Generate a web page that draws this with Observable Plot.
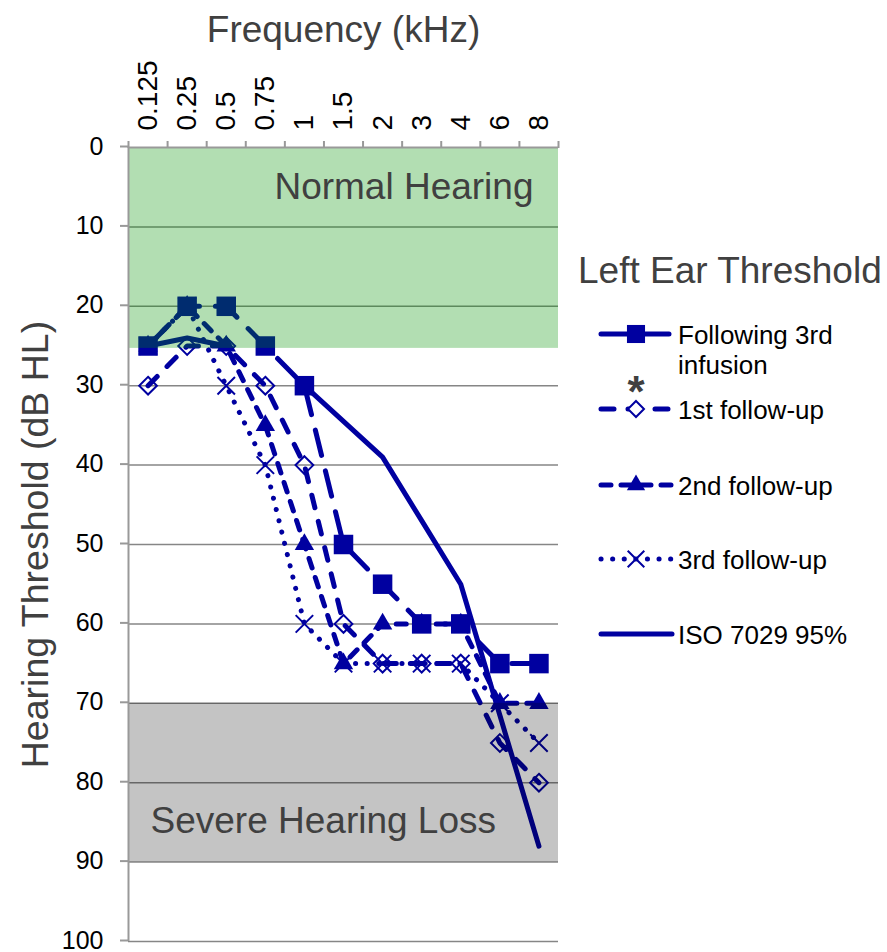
<!DOCTYPE html>
<html><head><meta charset="utf-8">
<script src="https://cdn.jsdelivr.net/npm/d3@7"></script>
<script src="https://cdn.jsdelivr.net/npm/@observablehq/plot@0.6"></script>
<style>
body{margin:0;background:#fff;font-family:"Liberation Sans",Arial,sans-serif}
#wrap{position:relative;width:887px;height:952px;overflow:hidden}
</style></head><body><div id="wrap"></div>
<script>
// ---- data ----
const freqs = ["0.125","0.25","0.5","0.75","1","1.5","2","3","4","6","8"];
const following3rd = [25,20,20,25,30,50,55,60,60,65,65];
const followUp1 = [30,25,25,30,40,60,65,65,65,75,80];
const followUp2 = [25,20,25,35,50,65,60,60,60,70,70];
const followUp3 = [25,20,30,40,60,65,65,65,65,70,75];
const iso7029 = [25,24,25,null,30,34.5,39,47,55,71.5,88];
const yTicks = [0,10,20,30,40,50,60,70,80,90,100];
const zoneNames = ["Normal Hearing","Severe Hearing Loss"];
const zoneFrom = [0,70];
const zoneTo = [25.3,90];
const seriesNames = ["Following 3rd infusion","1st follow-up","2nd follow-up","3rd follow-up","ISO 7029 95%"];

// ---- styles ----
const BLUE = "#0000a0";
const FONT = "'Liberation Sans', Arial, sans-serif";
const LW = 5;
const series = [
  {name: seriesNames[0], values: following3rd, dash: "26,16", symbol: "square", r: 11, lr: 10.2, fill: BLUE, stroke: "none"},
  {name: seriesNames[1], values: followUp1, dash: "13,14", symbol: "diamond2", r: 8, lr: 7.2, fill: "none", stroke: BLUE},
  {name: seriesNames[2], values: followUp2, dash: "10,10", symbol: "triangle", r: 7.2, lr: 6.8, fill: BLUE, stroke: "none"},
  {name: seriesNames[3], values: followUp3, dash: "0.1,11.5", symbol: "times", r: 8, lr: 7.6, fill: "none", stroke: BLUE},
  {name: seriesNames[4], values: iso7029, dash: null, symbol: null}
];
const rows = vals => vals.map((v, i) => ({i, v: v == null ? NaN : v}));
const bounds = d3.range(freqs.length + 1).map(i => i - 0.5);
const zones = zoneNames.map((n, k) => ({name: n, from: zoneFrom[k], to: zoneTo[k]}));

const marks = [];
marks.push(Plot.ruleY(yTicks.filter(d => d > 0), {y: d => d, stroke: "#868686", strokeWidth: 1.5}));
for (const s of series) {
  marks.push(Plot.line(rows(s.values), {x: "i", y: "v", stroke: BLUE, strokeWidth: LW,
    strokeDasharray: s.dash || undefined, strokeLinecap: "round", strokeLinejoin: "round"}));
  if (s.symbol) {
    marks.push(Plot.dot(rows(s.values), {x: "i", y: "v", symbol: s.symbol, r: s.r,
      fill: s.fill, stroke: s.stroke, strokeWidth: 2}));
  }
}
// translucent zone overlays
marks.push(Plot.rect([zones[0]], {y1: "from", y2: "to", fill: "rgb(0,147,0)", fillOpacity: 0.3}));
marks.push(Plot.rect([zones[1]], {y1: "from", y2: "to", fill: "black", fillOpacity: 0.23}));
marks.push(Plot.text([zones[0]], {text: "name", frameAnchor: "top-right", dx: -25, dy: 40, textAnchor: "end", lineAnchor: "middle", fontSize: 37, fill: "#404040"}));
marks.push(Plot.text([zones[1]], {text: "name", frameAnchor: "bottom-left", dx: 22, dy: -120, textAnchor: "start", lineAnchor: "middle", fontSize: 37, fill: "#404040"}));
// axes
marks.push(Plot.ruleY([0], {stroke: "#999", strokeWidth: 2}));
marks.push(Plot.ruleX([bounds[0]], {y1: 0, y2: 100, stroke: "#999", strokeWidth: 2}));
marks.push(Plot.axisY({ticks: yTicks, tickSize: 8, tickPadding: 17, fontSize: 25, stroke: "#999", strokeWidth: 2, fill: "black", label: null, dy: -1}));
marks.push(Plot.axisX({anchor: "top", ticks: bounds, tickSize: 7, stroke: "#999", strokeWidth: 2, tickFormat: () => "", label: null}));
marks.push(Plot.text(freqs, {x: (d, i) => i, text: d => d, frameAnchor: "top", rotate: -90, textAnchor: "start", lineAnchor: "middle", dy: -17, fontSize: 28, fill: "black"}));
marks.push(Plot.text(["Frequency (kHz)"], {frameAnchor: "top", dy: -117, textAnchor: "middle", lineAnchor: "middle", fontSize: 37, fill: "#404040"}));
marks.push(Plot.text(["Hearing Threshold (dB HL)"], {frameAnchor: "left", dx: -93, rotate: -90, textAnchor: "middle", lineAnchor: "middle", fontSize: 37.5, fill: "#404040"}));

const chart = Plot.plot({
  width: 887, height: 952,
  marginLeft: 128, marginRight: 329, marginTop: 147, marginBottom: 11,
  x: {type: "linear", domain: [bounds[0], bounds[bounds.length - 1]], axis: null},
  y: {domain: [0, 100], reverse: true, axis: null},
  style: {fontFamily: FONT, background: "transparent", overflow: "visible"},
  marks
});
const wrap = document.getElementById("wrap");
wrap.appendChild(chart);

// ---- legend ----
const leg = d3.create("svg").attr("width", 887).attr("height", 952)
  .style("position", "absolute").style("left", "0px").style("top", "0px")
  .style("font-family", FONT);
leg.append("text").attr("x", 578).attr("y", 283).attr("font-size", 37).attr("fill", "#404040").text("Left Ear Threshold");
const rowY = [334, 409, 485, 559, 634];
const symMap = {square: d3.symbolSquare, diamond2: d3.symbolDiamond2, triangle: d3.symbolTriangle, times: d3.symbolTimes};
series.forEach((s, k) => {
  const y = rowY[k];
  leg.append("line").attr("x1", 601).attr("x2", 672).attr("y1", y).attr("y2", y)
    .attr("stroke", BLUE).attr("stroke-width", LW).attr("stroke-linecap", "round")
    .attr("stroke-dasharray", s.dash || null);
  if (s.symbol) {
    leg.append("path").attr("transform", `translate(636,${y})`)
      .attr("d", d3.symbol(symMap[s.symbol], Math.PI * s.lr * s.lr)())
      .attr("fill", s.fill === "none" ? "white" : s.fill).attr("stroke", s.stroke).attr("stroke-width", 2);
  }
  const words = k === 0 ? ["Following 3rd", "infusion"] : [s.name];
  words.forEach((w, j) => {
    leg.append("text").attr("x", 678).attr("y", y + 10 + j * 30).attr("font-size", 26).attr("fill", "black").text(w);
  });
});
leg.append("text").attr("x", 636).attr("y", 407).attr("text-anchor", "middle").attr("font-size", 44).attr("font-weight", "bold").attr("fill", "#404040").text("*");
wrap.appendChild(leg.node());
</script></body></html>
